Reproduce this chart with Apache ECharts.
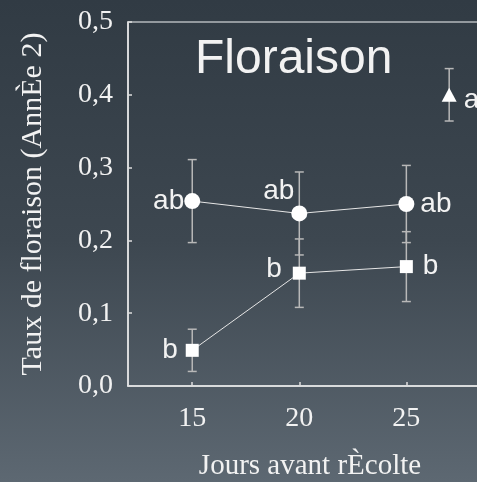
<!DOCTYPE html>
<html><head><meta charset="utf-8">
<script src="https://cdn.jsdelivr.net/npm/echarts@6/dist/echarts.min.js"></script>
<style>html,body{margin:0;padding:0;background:#3a444d}#c{width:477px;height:482px}</style>
</head><body><div id="c"></div>
<script>
// ---- data ----
const days = [15, 20, 25];
const xTickValues = [15, 20, 25];
const circleMean = [0.254, 0.237, 0.250];
const circleErr = [0.057, 0.057, 0.053];
const circleLetters = ['ab', 'ab', 'ab'];
const squareMean = [0.049, 0.155, 0.164];
const squareErr = [0.029, 0.047, 0.048];
const squareLetters = ['b', 'b', 'b'];
const triangleDays = [27];
const triangleMean = [0.400];
const triangleErr = [0.036];
const triangleLetters = ['a'];
const titleText = 'Floraison';
const xName = 'Jours avant rÈcolte';
const yName = 'Taux de floraison (AnnÈe 2)';

// ---- styles ----
const TXT = '#f2f2f2';
const labelFont = { color: TXT, fontFamily: 'Liberation Sans', fontSize: 28 };
const circleLabelStyle = [
  { position: 'left', distance: 0 },
  { position: 'left', distance: 0, offset: [3, -22] },
  { position: 'right', distance: 6 }
];
const squareLabelStyle = [
  { position: 'left', distance: 8 },
  { position: 'left', distance: 11, offset: [0, -4] },
  { position: 'right', distance: 10 }
];
const triangleLabelStyle = [{ position: 'right', distance: 7, offset: [0, 5] }];

function pts(xs, ys, letters, styles) {
  return xs.map((x, i) => ({
    value: [x, ys[i]],
    label: Object.assign({ show: true, formatter: letters[i] }, labelFont, styles[i])
  }));
}
function errs(xs, ys, es) {
  return xs.map((x, i) => [x, ys[i] - es[i], ys[i] + es[i]]);
}
const errData = [].concat(
  errs(days, circleMean, circleErr),
  errs(days, squareMean, squareErr),
  errs(triangleDays, triangleMean, triangleErr)
);

const chart = echarts.init(document.getElementById('c'), null, { renderer: 'canvas' });
chart.setOption({
  animation: false,
  backgroundColor: new echarts.graphic.LinearGradient(0, 0, 0, 1, [
    { offset: 0, color: '#313b44' },
    { offset: 0.5, color: '#3d4750' },
    { offset: 1, color: '#5d6872' }
  ]),
  title: {
    text: titleText, left: 195, top: 36, padding: 0,
    textStyle: { color: TXT, fontFamily: 'Liberation Sans', fontSize: 48, fontWeight: 'normal' }
  },
  grid: {
    left: 128, top: 22, width: 364, height: 364,
    show: true, borderColor: '#b4b8bc', borderWidth: 1.5, backgroundColor: 'transparent',
    containLabel: false, outerBoundsMode: 'none'
  },
  xAxis: {
    type: 'value', min: 12, max: 29,
    axisLine: { show: true, onZero: false, lineStyle: { color: '#eeeeee', width: 1.5 } },
    axisTick: { show: true, inside: true, length: 4, customValues: xTickValues, lineStyle: { color: '#dddddd', width: 1.5 } },
    axisLabel: { customValues: xTickValues, margin: 19, color: TXT, fontFamily: 'Liberation Serif', fontSize: 28 },
    splitLine: { show: false },
    name: xName, nameLocation: 'middle', nameGap: 66,
    nameTextStyle: { color: TXT, fontFamily: 'Liberation Serif', fontSize: 29 }
  },
  yAxis: {
    type: 'value', min: 0, max: 0.5, interval: 0.1,
    axisLine: { show: true, onZero: false, lineStyle: { color: '#eeeeee', width: 1.5 } },
    axisTick: { show: true, inside: true, length: 4, lineStyle: { color: '#dddddd', width: 1.5 } },
    axisLabel: { margin: 15, color: TXT, fontFamily: 'Liberation Serif', fontSize: 28,
      formatter: v => v.toFixed(1).replace('.', ',') },
    splitLine: { show: false },
    name: yName, nameLocation: 'middle', nameGap: 80,
    nameTextStyle: { color: TXT, fontFamily: 'Liberation Serif', fontSize: 30 }
  },
  series: [
    {
      type: 'custom', z: 1, clip: false,
      data: errData,
      renderItem: (params, api) => {
        const x = api.value(0);
        const lo = api.coord([x, api.value(1)]);
        const hi = api.coord([x, api.value(2)]);
        const h = 4.5;
        const st = { stroke: '#b8b8b8', lineWidth: 1.5 };
        return { type: 'group', children: [
          { type: 'line', shape: { x1: lo[0], y1: lo[1], x2: hi[0], y2: hi[1] }, style: st },
          { type: 'line', shape: { x1: lo[0] - h, y1: lo[1], x2: lo[0] + h, y2: lo[1] }, style: st },
          { type: 'line', shape: { x1: hi[0] - h, y1: hi[1], x2: hi[0] + h, y2: hi[1] }, style: st }
        ] };
      }
    },
    {
      type: 'line', z: 3, symbol: 'circle', symbolSize: 16,
      itemStyle: { color: '#ffffff' }, lineStyle: { color: '#e6e6e6', width: 1 },
      data: pts(days, circleMean, circleLetters, circleLabelStyle)
    },
    {
      type: 'line', z: 3, symbol: 'rect', symbolSize: 13,
      itemStyle: { color: '#ffffff' }, lineStyle: { color: '#e6e6e6', width: 1 },
      data: pts(days, squareMean, squareLetters, squareLabelStyle)
    },
    {
      type: 'scatter', z: 3, symbol: 'triangle', symbolSize: [15, 14],
      itemStyle: { color: '#ffffff', opacity: 1 },
      data: pts(triangleDays, triangleMean, triangleLetters, triangleLabelStyle)
    }
  ]
});
</script>
</body></html>
